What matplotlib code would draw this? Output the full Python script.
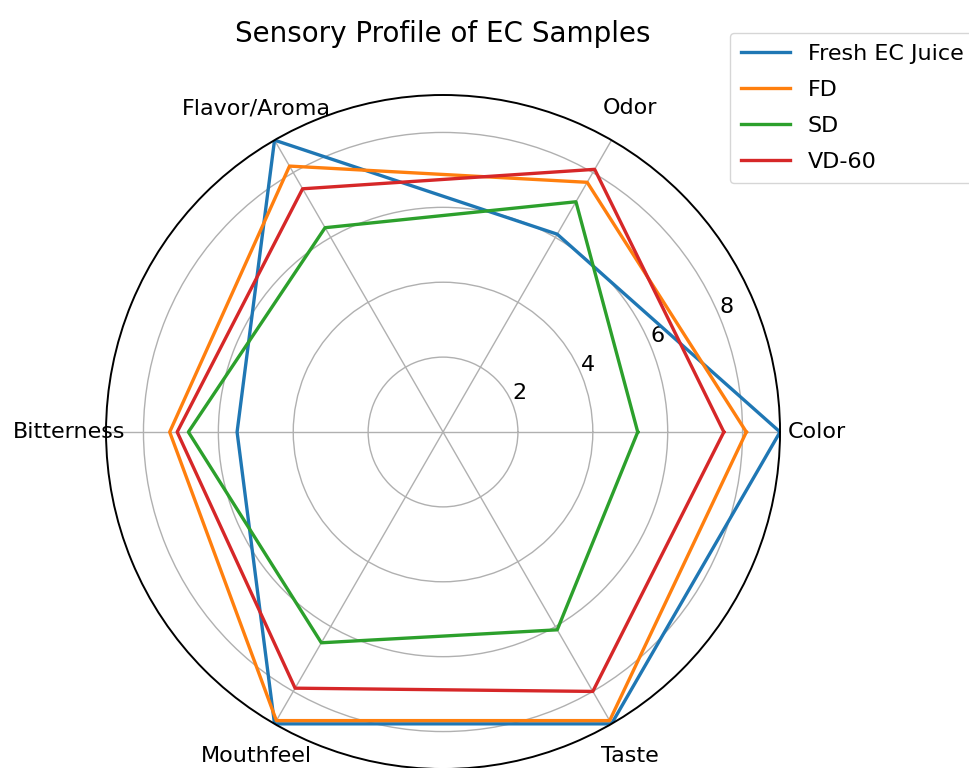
import numpy as np
import matplotlib
matplotlib.use("Agg")
import matplotlib.pyplot as plt

categories = ['Color', 'Odor', 'Flavor/Aroma', 'Bitterness', 'Mouthfeel', 'Taste']
series_names = ['Fresh EC Juice', 'FD', 'SD', 'VD-60']
fresh = [9.0, 6.1, 9.0, 5.5, 9.0, 9.0]
fd = [8.1, 7.7, 8.2, 7.3, 8.9, 8.9]
sd = [5.2, 7.1, 6.3, 6.8, 6.5, 6.1]
vd60 = [7.5, 8.1, 7.5, 7.1, 7.9, 8.0]
r_ticks = [2, 4, 6, 8]
r_max = 9

colors = ['#1f77b4', '#ff7f0e', '#2ca02c', '#d62728']

fig = plt.figure(figsize=(9.69, 7.68), dpi=100)
ax = fig.add_axes([0.1094, -0.0013, 0.6956, 0.8776], projection='polar')

angles = np.linspace(0, 2 * np.pi, len(categories), endpoint=False)
angles_closed = np.concatenate([angles, angles[:1]])

for name, vals, c in zip(series_names, [fresh, fd, sd, vd60], colors):
    v = list(vals) + [vals[0]]
    ax.plot(angles_closed, v, color=c, lw=2.4, label=name)

ax.set_xticks(angles)
ax.set_xticklabels(categories, fontsize=16)
ax.tick_params(axis='x', pad=16)
ax.set_ylim(0, r_max)
ax.set_yticks(r_ticks)
ax.set_yticklabels([str(t) for t in r_ticks], fontsize=16)
ax.grid(color='#b0b0b0', lw=1.0)
ax.spines['polar'].set_linewidth(1.4)

ax.set_title('Sensory Profile of EC Samples', fontsize=20, y=1.0, pad=38)

fig.legend(loc='upper left', bbox_to_anchor=(730 / 969, 1 - 33 / 768),
           bbox_transform=fig.transFigure, fontsize=16, handlelength=2.2,
           borderpad=0.5, labelspacing=0.72, borderaxespad=0)

fig.savefig('out.png', dpi=100)
